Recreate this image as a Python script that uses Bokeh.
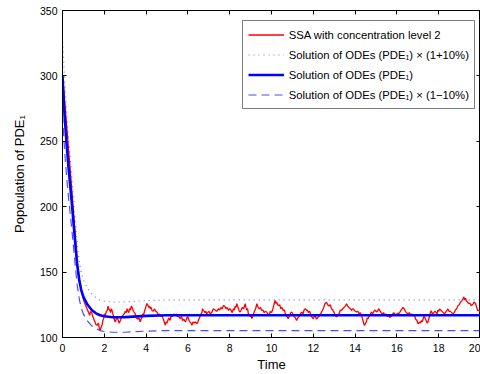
from bokeh.plotting import figure
from bokeh.models import Range1d, LinearAxis, Legend, LegendItem, FixedTicker, CustomJSTickFormatter
from bokeh.embed import file_html
from bokeh.resources import INLINE

# ODE solutions
t_ode = [0, 0.1, 0.2, 0.3, 0.4, 0.5, 0.6, 0.7, 0.8, 0.9, 1.0, 1.2, 1.4, 1.6, 1.8, 2.0, 2.4, 3.0, 4.0, 5.0, 20]
ode = [300, 270, 247, 228, 211, 193, 174, 156, 144, 136, 131, 125, 121, 118.5, 117, 116.2, 115.5, 115.6, 116.5, 117, 117]
ode_up = [330, 297, 271.7, 250.8, 232.1, 212.3, 191.4, 171.6, 158.4, 149.6, 144.1, 137.5, 133.1, 130.4, 128.7, 127.8, 127.1, 127.2, 128.2, 128.7, 128.7]
ode_lo = [270, 243, 222.3, 205.2, 189.9, 173.7, 156.6, 140.4, 129.6, 122.4, 117.9, 112.5, 108.9, 106.7, 105.3, 104.6, 104, 104, 104.9, 105.3, 105.3]

# SSA trace
t_ssa = [
    0, 0.1, 0.2, 0.3, 0.4, 0.5, 0.6, 0.7, 0.8, 0.9,
    1.0, 1.1, 1.2, 1.3, 1.35, 1.4, 1.45, 1.5, 1.55, 1.6,
    1.65, 1.72, 1.76, 1.81, 1.85, 1.9, 1.93, 1.97, 2.01, 2.05,
    2.1, 2.15, 2.18, 2.21, 2.26, 2.3, 2.33, 2.37, 2.41, 2.45,
    2.49, 2.53, 2.59, 2.65, 2.71, 2.77, 2.84, 2.9, 2.95, 3.0,
    3.05, 3.09, 3.13, 3.17, 3.21, 3.25, 3.29, 3.33, 3.37, 3.4,
    3.44, 3.48, 3.54, 3.6, 3.66, 3.72, 3.76, 3.8, 3.84, 3.88,
    3.92, 3.96, 4.0, 4.04, 4.08, 4.12, 4.16, 4.2, 4.24, 4.28,
    4.34, 4.4, 4.46, 4.52, 4.58, 4.64, 4.7, 4.76, 4.8, 4.85,
    4.88, 4.92, 4.96, 5.0, 5.04, 5.08, 5.12, 5.15, 5.2, 5.25,
    5.32, 5.39, 5.45, 5.5, 5.56, 5.63, 5.69, 5.75, 5.81, 5.87,
    5.91, 5.95, 5.99, 6.03, 6.06, 6.1, 6.15, 6.19, 6.25, 6.3,
    6.36, 6.43, 6.48, 6.52, 6.56, 6.59, 6.63, 6.67, 6.7, 6.74,
    6.78, 6.82, 6.86, 6.9, 6.95, 7.0, 7.08, 7.15, 7.22, 7.3,
    7.38, 7.46, 7.52, 7.58, 7.64, 7.7, 7.76, 7.82, 7.88, 7.94,
    8.0, 8.06, 8.12, 8.18, 8.22, 8.26, 8.3, 8.34, 8.38, 8.42,
    8.46, 8.5, 8.55, 8.6, 8.67, 8.74, 8.78, 8.82, 8.86, 8.89,
    8.94, 8.98, 9.02, 9.06, 9.12, 9.18, 9.24, 9.3, 9.36, 9.42,
    9.48, 9.53, 9.59, 9.65, 9.71, 9.77, 9.82, 9.88, 9.94, 10.0,
    10.05, 10.1, 10.13, 10.17, 10.21, 10.25, 10.29, 10.33, 10.39, 10.45,
    10.5, 10.56, 10.62, 10.68, 10.74, 10.8, 10.84, 10.88, 10.92, 10.96,
    11.02, 11.08, 11.14, 11.2, 11.26, 11.32, 11.38, 11.44, 11.5, 11.56,
    11.62, 11.68, 11.72, 11.76, 11.8, 11.84, 11.88, 11.92, 11.96, 12.0,
    12.05, 12.1, 12.16, 12.23, 12.27, 12.31, 12.35, 12.39, 12.45, 12.5,
    12.56, 12.63, 12.69, 12.75, 12.81, 12.87, 12.93, 13.0, 13.05, 13.11,
    13.17, 13.23, 13.29, 13.35, 13.41, 13.47, 13.53, 13.59, 13.65, 13.7,
    13.77, 13.83, 13.89, 13.95, 14.01, 14.07, 14.13, 14.2, 14.25, 14.3,
    14.34, 14.38, 14.42, 14.46, 14.5, 14.54, 14.58, 14.62, 14.66, 14.7,
    14.74, 14.78, 14.84, 14.9, 14.96, 15.02, 15.06, 15.1, 15.14, 15.18,
    15.24, 15.3, 15.36, 15.42, 15.48, 15.54, 15.6, 15.66, 15.72, 15.78,
    15.84, 15.9, 15.96, 16.02, 16.08, 16.13, 16.17, 16.2, 16.25, 16.29,
    16.35, 16.4, 16.46, 16.53, 16.59, 16.65, 16.71, 16.77, 16.84, 16.9,
    16.96, 17.01, 17.05, 17.09, 17.13, 17.17, 17.21, 17.25, 17.29, 17.33,
    17.37, 17.4, 17.44, 17.48, 17.52, 17.56, 17.6, 17.64, 17.7, 17.76,
    17.82, 17.88, 17.92, 17.96, 18.0, 18.04, 18.1, 18.16, 18.22, 18.28,
    18.32, 18.36, 18.4, 18.44, 18.5, 18.56, 18.62, 18.68, 18.74, 18.8,
    18.86, 18.92, 18.98, 19.04, 19.1, 19.16, 19.2, 19.24, 19.28, 19.32,
    19.38, 19.44, 19.5, 19.56, 19.6, 19.64, 19.68, 19.71, 19.76, 19.8,
    19.84, 19.87, 19.94, 20.0,
]
ssa = [
    300, 281, 262, 242, 222, 201, 180, 158, 146, 136,
    129, 124.6, 121, 117, 120, 119, 116, 114, 112, 110,
    109.3, 111, 107, 105.6, 108, 110, 113, 114.4, 118, 117,
    120, 121, 124, 122, 121, 119, 122, 120.7, 118, 116,
    113, 112, 115, 114, 111, 113, 116, 117, 118, 120,
    119, 122, 120, 119, 122, 121, 124, 123, 121, 120,
    119, 118, 115, 114, 115, 112, 114, 115, 118, 117,
    120, 122, 124, 126, 125, 123, 124, 122, 123, 120.7,
    120, 122, 120, 119.5, 117, 118, 116, 117, 115, 113,
    111, 109.4, 112, 111, 113, 115, 114, 113, 117, 116,
    118, 117, 118, 116, 116, 114.4, 116, 113, 114, 112,
    113, 115, 116, 114.4, 113, 112, 111, 109.3, 112, 111,
    112, 110.6, 112, 114, 115, 117, 118, 119, 122, 120.7,
    120, 119, 120, 118.2, 119, 120, 118, 119.5, 122, 121,
    120, 122, 121, 123, 122, 124.5, 124, 122, 123, 120.7,
    122, 121, 119, 122, 121, 124, 123, 125.8, 124, 122,
    120, 119.5, 121, 123, 122, 125.8, 123, 121, 122, 118.2,
    117, 116, 117, 114.4, 117, 120, 122, 125.8, 123, 122,
    123, 120.7, 121, 119, 120, 119.5, 118, 117, 120, 119,
    121, 124, 126, 128.4, 126, 127, 125, 124.5, 125, 122,
    123, 120.7, 121, 117, 116, 114.4, 116, 117, 119, 119.5,
    118, 116, 115, 113, 115, 116, 118, 119.5, 118, 121,
    122, 120.7, 121, 119, 120, 119.5, 117, 116, 115, 114.4,
    116, 116, 114, 115.7, 116, 118, 117, 119.5, 121, 123,
    126, 127, 125, 124, 125, 122, 121, 119, 117, 115.7,
    117, 118, 121, 120.7, 122, 123, 124, 125.8, 124, 123,
    122, 120.7, 122, 121, 120, 119.5, 120, 118, 119, 117,
    115, 113, 110, 109.3, 111, 112, 115, 114.4, 116, 117,
    118, 119.5, 118, 120, 121, 119.5, 120, 121, 122, 120.7,
    119, 118, 119, 117, 118, 116, 117, 115.4, 116, 117,
    119, 118, 117, 118.5, 118, 119.2, 120, 121, 122, 123,
    122, 120, 119, 118, 119, 117, 118, 116.7, 117, 114,
    113, 110.4, 111, 112, 111, 112.9, 112, 114, 116, 115.4,
    114, 113, 111, 111.6, 114, 116, 119, 120.5, 118, 119,
    120, 119.2, 118, 121, 120, 121.8, 121, 120, 119, 118,
    119, 120, 121, 121.8, 120, 120, 119, 118, 119, 121,
    122, 124.3, 125, 127, 128, 129.4, 131, 129, 130, 128.1,
    127, 126, 126, 124.3, 125, 125.5, 127, 126.8, 126, 124,
    122, 120.5, 121, 119,
]

x_ticks = [0, 2, 4, 6, 8, 10, 12, 14, 16, 18, 20]
y_ticks = [100, 150, 200, 250, 300, 350]

labels = [
    "SSA with concentration level 2",
    "Solution of ODEs (PDE\u2081) \u00d7 (1+10%)",
    "Solution of ODEs (PDE\u2081)",
    "Solution of ODEs (PDE\u2081) \u00d7 (1\u221210%)",
]

FONT = "Liberation Sans"

p = figure(width=480, height=374, x_range=Range1d(0, 20), y_range=Range1d(100, 350),
           output_backend="svg", toolbar_location=None,
           min_border_left=62, min_border_top=10, min_border_right=0, min_border_bottom=35)
p.grid.visible = False
p.outline_line_color = "black"
p.outline_line_width = 1
p.background_fill_color = "white"

r_ssa = p.line(t_ssa, ssa, line_color="#ff0000", line_width=1.3)
r_up = p.line(t_ode, ode_up, line_color="#0000ff", line_alpha=0.55, line_width=1.2, line_dash="1 4")
r_ode = p.line(t_ode, ode, line_color="#0000ff", line_width=2.6)
r_lo = p.line(t_ode, ode_lo, line_color="#0000ff", line_alpha=0.7, line_width=1.2, line_dash="8 5")

for ax in (p.xaxis[0], p.yaxis[0]):
    ax.major_tick_in = 4
    ax.major_tick_out = 0
    ax.minor_tick_line_color = None
    ax.axis_line_color = "black"
    ax.major_tick_line_color = "black"
    ax.major_label_text_font = FONT
    ax.major_label_text_font_size = "10.5px"
    ax.major_label_text_color = "black"
    ax.axis_label_text_font = FONT
    ax.axis_label_text_font_size = "13px"
    ax.axis_label_text_font_style = "normal"
    ax.axis_label_text_color = "black"

p.xaxis[0].ticker = FixedTicker(ticks=x_ticks)
p.yaxis[0].ticker = FixedTicker(ticks=y_ticks)
p.xaxis[0].axis_label = "Time"
p.yaxis[0].axis_label = "Popoulation of PDE\u2081"
p.xaxis[0].major_label_standoff = 6
p.yaxis[0].major_label_standoff = 5
p.xaxis[0].axis_label_standoff = 2
p.yaxis[0].axis_label_standoff = 10

blank = CustomJSTickFormatter(code="return ''")
top = LinearAxis(ticker=FixedTicker(ticks=x_ticks), major_tick_in=4, major_tick_out=0,
                 minor_tick_line_color=None, formatter=blank,
                 major_label_standoff=0, axis_line_color="black")
right = LinearAxis(ticker=FixedTicker(ticks=y_ticks), major_tick_in=4, major_tick_out=0,
                   minor_tick_line_color=None, formatter=blank,
                   major_label_standoff=0, axis_line_color="black")
p.add_layout(top, "above")
p.add_layout(right, "right")

legend = Legend(items=[LegendItem(label=labels[0], renderers=[r_ssa]),
                       LegendItem(label=labels[1], renderers=[r_up]),
                       LegendItem(label=labels[2], renderers=[r_ode]),
                       LegendItem(label=labels[3], renderers=[r_lo])],
                location=(179.7, 228))
legend.label_text_font = FONT
legend.label_text_font_size = "11.3px"
legend.label_text_color = "black"
legend.glyph_width = 36
legend.glyph_height = 17
legend.label_height = 17
legend.spacing = 3
legend.padding = 5
legend.margin = 0
legend.label_standoff = 5
legend.border_line_color = "black"
legend.border_line_width = 1.2
legend.background_fill_color = "white"
legend.background_fill_alpha = 1
p.add_layout(legend)

open("out.html", "w").write(file_html(p, INLINE))
